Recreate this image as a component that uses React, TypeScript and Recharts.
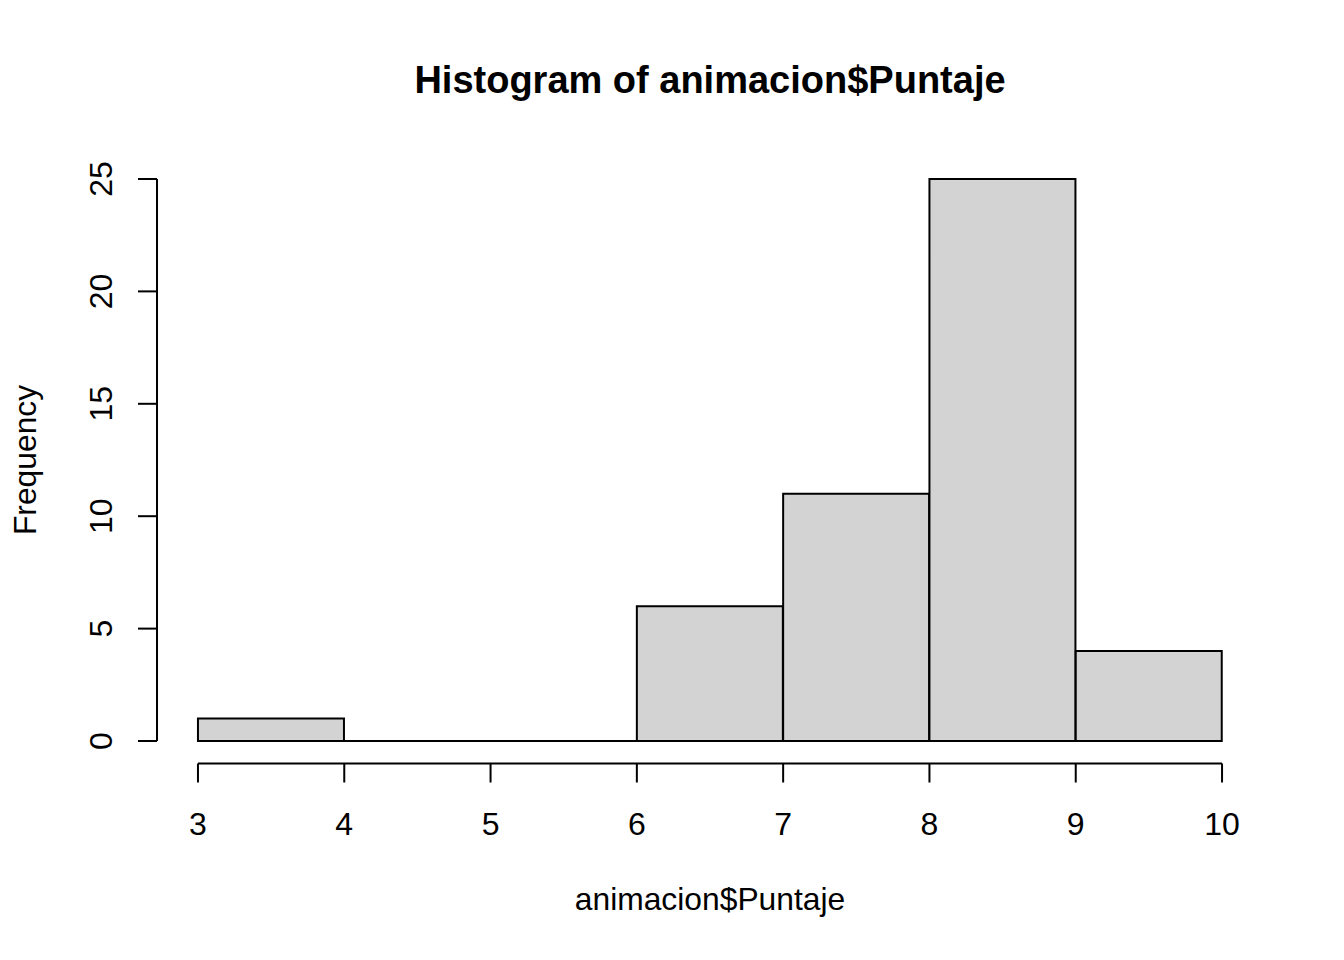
import React from 'react';
import { BarChart, Bar, XAxis, YAxis, ReferenceLine } from 'recharts';

// histogram of animacion$Puntaje
const breaks = [3, 4, 5, 6, 7, 8, 9, 10];
const counts = [1, 0, 0, 6, 11, 25, 4];
const yTicks = [0, 5, 10, 15, 20, 25];

const data = counts.map((count, i) => ({ mid: (breaks[i] + breaks[i + 1]) / 2, count }));

const FONT = '"Liberation Sans", Arial, Helvetica, sans-serif';
const W = 1344;
const H = 960;

// R extends the axis ranges by 4% on each side
const xLo = breaks[0];
const xHi = breaks[breaks.length - 1];
const xPad = (xHi - xLo) * 0.04;
const yHi = Math.max(...counts);
const yPad = yHi * 0.04;

const renderXTick = (props: any) => {
    const { x, y, payload } = props;
    return (
        <g key={`xt-${payload.value}`}>
            <line x1={x} y1={y} x2={x} y2={y + 19} stroke="#000" strokeWidth={2} />
            <text x={x} y={y + 71} textAnchor="middle" fontSize={32} fill="#000" fontFamily={FONT}>
                {payload.value}
            </text>
        </g>
    );
};

const renderYTick = (props: any) => {
    const { x, y, payload } = props;
    const tx = x - 45;
    return (
        <g key={`yt-${payload.value}`}>
            <line x1={x - 19} y1={y} x2={x} y2={y} stroke="#000" strokeWidth={2} />
            <text
                x={tx}
                y={y}
                textAnchor="middle"
                fontSize={32}
                fill="#000"
                fontFamily={FONT}
                transform={`rotate(-90, ${tx}, ${y})`}
            >
                {payload.value}
            </text>
        </g>
    );
};

export default function App() {
    return (
        <div style={{ position: 'absolute', left: 0, top: 0, width: W, height: H, background: '#fff' }}>
            <BarChart
                width={W}
                height={H}
                data={data}
                margin={{ top: 156.5, right: 81, bottom: 195.5, left: 156 }}
                barCategoryGap={0}
                barGap={0}
            >
                <XAxis
                    dataKey="mid"
                    type="number"
                    domain={[xLo - xPad, xHi + xPad]}
                    ticks={breaks}
                    interval={0}
                    allowDataOverflow
                    axisLine={false}
                    tickLine={false}
                    tickSize={0}
                    tickMargin={0}
                    height={1}
                    tick={renderXTick}
                />
                <YAxis
                    type="number"
                    domain={[-yPad, yHi + yPad]}
                    ticks={yTicks}
                    interval={0}
                    allowDataOverflow
                    axisLine={false}
                    tickLine={false}
                    tickSize={0}
                    tickMargin={0}
                    width={1}
                    tick={renderYTick}
                />
                <Bar
                    dataKey="count"
                    fill="#D3D3D3"
                    stroke="#000"
                    strokeWidth={2}
                    isAnimationActive={false}
                />
                <ReferenceLine
                    segment={[{ x: xLo, y: 0 }, { x: xHi, y: 0 }]}
                    stroke="#000"
                    strokeWidth={2}
                    ifOverflow="visible"
                />
                <ReferenceLine
                    segment={[{ x: xLo, y: -yPad }, { x: xHi, y: -yPad }]}
                    stroke="#000"
                    strokeWidth={2}
                    ifOverflow="visible"
                />
                <ReferenceLine
                    segment={[{ x: xLo - xPad, y: 0 }, { x: xLo - xPad, y: yTicks[yTicks.length - 1] }]}
                    stroke="#000"
                    strokeWidth={2}
                    ifOverflow="visible"
                />
            </BarChart>
            <svg width={W} height={H} style={{ position: 'absolute', left: 0, top: 0, pointerEvents: 'none' }}>
                <text x={710} y={93} textAnchor="middle" fontSize={38} fontWeight="bold" fontFamily={FONT} fill="#000">
                    Histogram of animacion$Puntaje
                </text>
                <text x={710} y={910} textAnchor="middle" fontSize={31.8} fontFamily={FONT} fill="#000">
                    animacion$Puntaje
                </text>
                <text
                    x={36}
                    y={460}
                    textAnchor="middle"
                    fontSize={31.8}
                    fontFamily={FONT}
                    fill="#000"
                    transform="rotate(-90, 36, 460)"
                >
                    Frequency
                </text>
            </svg>
        </div>
    );
}
